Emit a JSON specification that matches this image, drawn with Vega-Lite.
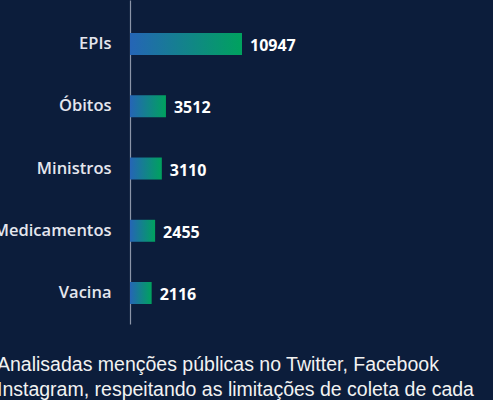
{
  "$schema": "https://vega.github.io/schema/vega-lite/v6.json",
  "autosize": {"type": "none"},
  "width": 363,
  "height": 324,
  "padding": {"left": 130, "top": 0, "right": 0, "bottom": 76},
  "background": "#0c1d3b",
  "config": {"view": {"stroke": null}},
  "title": {
    "text": ["Analisadas menções públicas no Twitter, Facebook", "Instagram, respeitando as limitações de coleta de cada"],
    "orient": "bottom",
    "anchor": "start",
    "frame": "group",
    "dx": -133,
    "offset": 32,
    "font": "Liberation Sans",
    "fontSize": 19.5,
    "fontWeight": "normal",
    "color": "#f2f2f2",
    "lineHeight": 25
  },
  "data": {"values": [
    {"tema": "EPIs", "mencoes": 10947},
    {"tema": "Óbitos", "mencoes": 3512},
    {"tema": "Ministros", "mencoes": 3110},
    {"tema": "Medicamentos", "mencoes": 2455},
    {"tema": "Vacina", "mencoes": 2116}
  ]},
  "encoding": {
    "y": {
      "field": "tema",
      "type": "nominal",
      "sort": {"field": "mencoes", "order": "descending"},
      "scale": {"paddingInner": 0.6466, "paddingOuter": 0.4257, "align": 0.623},
      "axis": {
        "title": null,
        "ticks": false,
        "domainColor": "#8c95a8",
        "domainWidth": 1.2,
        "labelPadding": 19,
        "labelFont": "Open Sans",
        "labelFontSize": 16.5,
        "labelFontWeight": 600,
        "labelColor": "#e4e6ee",
        "labelLimit": 300
      }
    },
    "x": {
      "field": "mencoes",
      "type": "quantitative",
      "scale": {"domain": [0, 35480], "nice": false},
      "axis": null
    }
  },
  "layer": [
    {
      "mark": {
        "type": "bar",
        "color": {
          "gradient": "linear",
          "x1": 0, "y1": 0, "x2": 1, "y2": 0,
          "stops": [
            {"offset": 0, "color": "#2565b6"},
            {"offset": 1, "color": "#00a25e"}
          ]
        }
      }
    },
    {
      "mark": {
        "type": "text",
        "align": "left",
        "baseline": "middle",
        "dx": 8,
        "dy": 2,
        "font": "Open Sans",
        "fontSize": 16,
        "fontWeight": "bold",
        "color": "#ffffff"
      },
      "encoding": {"text": {"field": "mencoes", "type": "quantitative", "format": "d"}}
    }
  ]
}
